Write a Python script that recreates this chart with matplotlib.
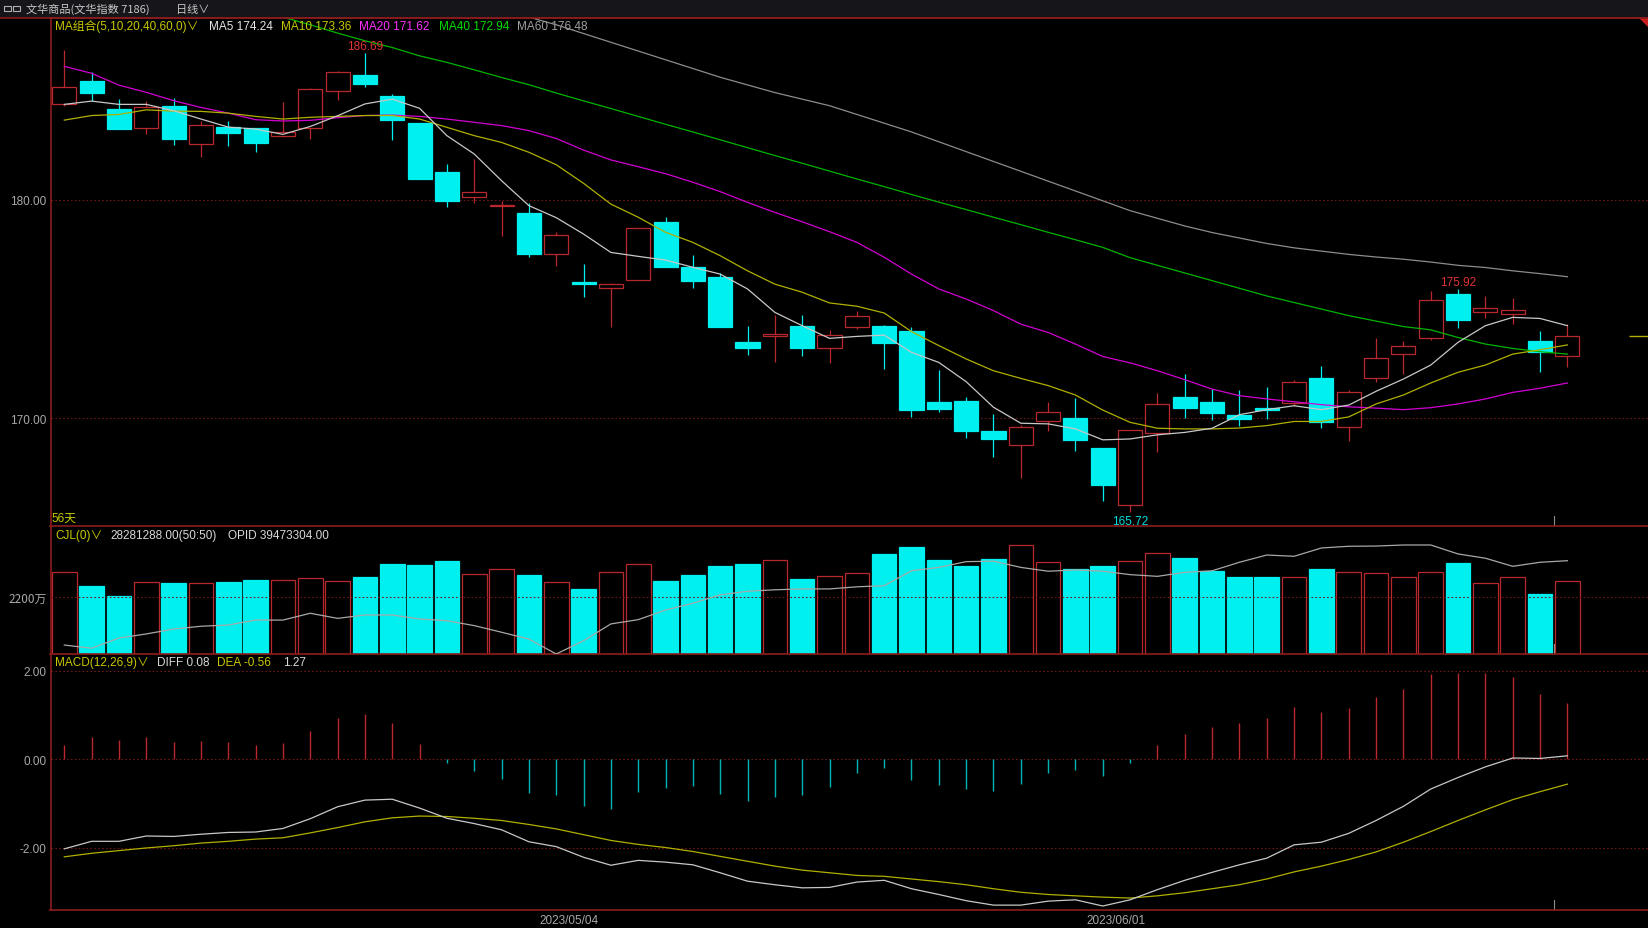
import numpy as np
import matplotlib.pyplot as plt
from matplotlib.patches import Rectangle, Polygon
from matplotlib.lines import Line2D

W, H = 1648, 929

# ---------------- data ----------------
opens = [184.36, 185.43, 184.15, 183.29, 184.28, 182.53, 183.32, 183.28, 182.90, 183.27,
         184.96, 185.70, 184.73, 183.51, 181.25, 180.14, 179.70, 179.38, 177.50, 176.25,
         175.98, 176.31, 178.99, 176.91, 176.47, 173.49, 173.75, 174.24, 173.21, 174.19,
         174.24, 174.01, 170.76, 170.78, 169.41, 168.78, 169.87, 170.02, 168.63, 166.05,
         169.32, 170.98, 170.74, 170.16, 170.48, 170.70, 171.83, 169.59, 171.83, 172.93,
         173.66, 175.70, 174.85, 174.76, 173.54, 172.84]
highs = [186.84, 185.82, 184.60, 184.51, 184.65, 183.61, 183.58, 183.30, 184.45, 185.11,
         185.90, 186.69, 184.83, 183.53, 181.63, 181.86, 179.92, 179.85, 178.51, 177.06,
         176.19, 178.71, 179.20, 177.47, 176.65, 174.21, 174.73, 174.73, 174.04, 174.93,
         174.26, 174.19, 172.21, 170.96, 170.20, 169.70, 170.74, 170.92, 168.65, 169.46,
         171.16, 172.03, 171.34, 171.31, 171.44, 171.77, 172.41, 171.30, 173.66, 173.53,
         175.81, 175.92, 175.58, 175.51, 174.00, 174.32]
lows = [184.30, 184.53, 183.22, 182.99, 182.51, 181.97, 182.47, 182.19, 182.88, 182.79,
        184.56, 185.17, 182.74, 180.96, 179.68, 179.83, 178.35, 177.40, 176.97, 175.56,
        174.19, 176.31, 176.91, 175.98, 174.16, 172.90, 172.57, 172.87, 172.54, 174.10,
        172.26, 170.08, 170.28, 169.12, 168.25, 167.27, 169.41, 168.50, 166.24, 165.72,
        168.45, 170.02, 169.94, 169.64, 169.97, 170.58, 169.56, 168.98, 171.65, 172.03,
        173.60, 174.13, 174.59, 174.30, 172.14, 172.36]
closes = [185.14, 184.89, 183.25, 184.24, 182.76, 183.40, 183.04, 182.61, 183.11, 185.05,
          185.85, 185.29, 183.64, 180.96, 179.94, 180.37, 179.76, 177.52, 178.39, 176.13,
          176.14, 178.71, 176.91, 176.30, 174.19, 173.22, 173.86, 173.24, 173.81, 174.67,
          173.43, 170.40, 170.42, 169.44, 169.06, 169.62, 170.28, 169.01, 166.95, 169.46,
          170.66, 170.48, 170.23, 169.97, 170.37, 171.68, 169.82, 171.21, 172.75, 173.30,
          175.41, 174.49, 175.05, 174.94, 173.05, 173.75]

ma5 = [184.36, 184.51, 184.36, 184.36, 184.07, 183.69, 183.32, 183.23, 182.99, 183.35,
       183.84, 184.38, 184.60, 184.18, 182.93, 182.09, 180.87, 179.73, 179.18, 178.43,
       177.59, 177.41, 177.24, 176.91, 176.60, 175.92, 174.85, 174.24, 173.66, 173.75,
       173.81, 173.02, 172.56, 171.68, 170.51, 169.78, 169.75, 169.52, 169.02, 169.06,
       169.25, 169.36, 169.55, 170.17, 170.40, 170.58, 170.40, 170.61, 171.24, 171.80,
       172.44, 173.48, 174.24, 174.62, 174.57, 174.24]
ma10 = [183.64, 183.85, 183.90, 184.11, 184.05, 184.04, 183.96, 183.81, 183.69, 183.77,
        183.81, 183.85, 183.85, 183.69, 183.31, 182.93, 182.62, 182.17, 181.60, 180.75,
        179.80, 179.20, 178.51, 178.05, 177.44, 176.75, 176.14, 175.77, 175.28, 175.13,
        174.82, 173.97, 173.33, 172.72, 172.18, 171.83, 171.50, 171.07, 170.38, 169.82,
        169.55, 169.52, 169.52, 169.56, 169.67, 169.86, 169.86, 170.07, 170.66, 171.07,
        171.62, 172.11, 172.44, 172.94, 173.14, 173.36]
ma20 = [186.10, 185.78, 185.24, 184.91, 184.53, 184.22, 183.96, 183.66, 183.60, 183.63,
        183.75, 183.85, 183.87, 183.81, 183.69, 183.54, 183.39, 183.16, 182.80, 182.27,
        181.82, 181.51, 181.19, 180.80, 180.37, 179.88, 179.42, 178.99, 178.54, 178.05,
        177.37, 176.60, 175.92, 175.46, 174.93, 174.31, 173.93, 173.40, 172.83, 172.54,
        172.18, 171.77, 171.34, 171.04, 170.89, 170.76, 170.63, 170.53, 170.47, 170.40,
        170.49, 170.66, 170.89, 171.19, 171.38, 171.62]
ma40 = [191.20, 190.85, 190.50, 190.15, 189.80, 189.40, 189.05, 188.70, 188.35, 188.00,
        187.62, 187.27, 186.96, 186.58, 186.28, 185.94, 185.59, 185.26, 184.88, 184.52,
        184.17, 183.81, 183.45, 183.10, 182.74, 182.38, 182.02, 181.67, 181.31, 180.95,
        180.60, 180.24, 179.89, 179.55, 179.20, 178.86, 178.51, 178.17, 177.82, 177.35,
        177.00, 176.65, 176.30, 175.95, 175.60, 175.30, 175.00, 174.70, 174.45, 174.20,
        174.05, 173.70, 173.40, 173.20, 173.05, 172.94]
ma60 = [195.20, 194.80, 194.40, 194.00, 193.60, 193.20, 192.80, 192.40, 192.00, 191.60,
        191.20, 190.80, 190.40, 190.00, 189.60, 189.20, 188.75, 188.35, 188.00, 187.60,
        187.20, 186.80, 186.40, 186.00, 185.60, 185.25, 184.90, 184.60, 184.30, 183.90,
        183.50, 183.10, 182.65, 182.20, 181.75, 181.30, 180.85, 180.40, 179.95, 179.50,
        179.15, 178.80, 178.50, 178.25, 178.00, 177.80, 177.65, 177.50, 177.38, 177.28,
        177.15, 177.00, 176.90, 176.75, 176.62, 176.48]

# volume (CJL) and open interest (OPID), in 万
cjl = [3180, 2610, 2230, 2770, 2740, 2740, 2770, 2840, 2860, 2930,
       2810, 2970, 3460, 3430, 3580, 3080, 3270, 3050, 2770, 2510,
       3150, 3460, 2820, 3050, 3380, 3490, 3630, 2890, 3000, 3130,
       3870, 4130, 3620, 3410, 3670, 4210, 3560, 3280, 3410, 3590,
       3900, 3690, 3200, 2970, 2970, 2970, 3280, 3180, 3130, 2970,
       3150, 3510, 2740, 2970, 2320, 2828.1288]
opid = [3552, 3537, 3585, 3604, 3627, 3640, 3646, 3669, 3669, 3701,
        3677, 3693, 3693, 3674, 3666, 3643, 3612, 3580, 3510, 3572,
        3651, 3671, 3716, 3748, 3787, 3804, 3811, 3815, 3815, 3825,
        3830, 3900, 3916, 3943, 3945, 3916, 3898, 3904, 3898, 3882,
        3874, 3893, 3900, 3940, 3974, 3968, 4007, 4015, 4016, 4021,
        4021, 3979, 3959, 3921, 3940, 3947.3304]

macd_hist = [0.33, 0.51, 0.43, 0.51, 0.38, 0.41, 0.38, 0.32, 0.37, 0.65,
             0.93, 1.02, 0.83, 0.35, -0.08, -0.26, -0.44, -0.76, -0.80, -1.05,
             -1.11, -0.74, -0.65, -0.60, -0.78, -0.93, -0.86, -0.80, -0.62, -0.30,
             -0.20, -0.47, -0.57, -0.67, -0.71, -0.56, -0.30, -0.23, -0.38, -0.08,
             0.32, 0.58, 0.74, 0.83, 0.93, 1.18, 1.07, 1.16, 1.41, 1.59,
             1.92, 1.95, 1.95, 1.86, 1.48, 1.27]
diff = [-2.02, -1.85, -1.85, -1.73, -1.74, -1.69, -1.65, -1.64, -1.56, -1.34,
        -1.07, -0.92, -0.90, -1.10, -1.33, -1.45, -1.59, -1.86, -1.97, -2.21,
        -2.39, -2.28, -2.32, -2.38, -2.56, -2.75, -2.83, -2.90, -2.89, -2.77,
        -2.73, -2.92, -3.05, -3.19, -3.29, -3.29, -3.20, -3.17, -3.31, -3.17,
        -2.94, -2.73, -2.55, -2.38, -2.23, -1.93, -1.87, -1.67, -1.38, -1.06,
        -0.67, -0.41, -0.17, 0.03, 0.02, 0.08]
dea = [-2.20, -2.12, -2.06, -2.00, -1.95, -1.89, -1.85, -1.80, -1.77, -1.66,
       -1.54, -1.41, -1.32, -1.28, -1.29, -1.33, -1.38, -1.47, -1.57, -1.70,
       -1.83, -1.92, -1.99, -2.08, -2.19, -2.30, -2.41, -2.50, -2.56, -2.62,
       -2.64, -2.70, -2.76, -2.83, -2.92, -3.00, -3.05, -3.08, -3.11, -3.13,
       -3.08, -3.01, -2.92, -2.83, -2.70, -2.54, -2.41, -2.26, -2.09, -1.87,
       -1.63, -1.38, -1.14, -0.91, -0.73, -0.56]

date_labels = ["2023/05/04", "2023/06/01"]
date_idx = [18, 38]
# candles carrying the high / low value labels
mark_high = [11, 51]
mark_low = [39]

# ---------------- style ----------------
RED = '#b8282c'
CYAN = '#00f0f0'
GRID = '#701616'
AXC = '#8c1c1c'
TXT = '#a8a8a8'
YEL = '#c8c800'
LAT = ['Liberation Sans', 'Noto Sans CJK SC', 'DejaVu Sans']
CJK = ['Noto Sans CJK SC', 'DejaVu Sans']

plt.rcParams['font.family'] = LAT

fig = plt.figure(figsize=(W / 100, H / 100), dpi=100, facecolor='black')


def fx(px):
    return px / W


def fy(py):
    return 1 - py / H


def ftext(px, py, s, color, size=8.5, family=LAT, ha='left'):
    fig.text(fx(px), fy(py), s, color=color, fontsize=size, family=family,
             ha=ha, va='center')


left = 50.5
top_p, bot_p, bot_v, bot_m = 19, 527, 655, 911
ax_p = fig.add_axes([fx(left), fy(bot_p), 1 - fx(left), (bot_p - top_p) / H])
ax_v = fig.add_axes([fx(left), fy(bot_v), 1 - fx(left), (bot_v - bot_p) / H], sharex=ax_p)
ax_m = fig.add_axes([fx(left), fy(bot_m), 1 - fx(left), (bot_m - bot_v) / H], sharex=ax_p)

n = len(closes)
x = np.arange(n)

for ax in (ax_p, ax_v, ax_m):
    ax.set_facecolor('black')
    for s in ('right', 'bottom'):
        ax.spines[s].set_visible(False)
    for s in ('left', 'top'):
        ax.spines[s].set_color(AXC)
        ax.spines[s].set_linewidth(1.2)
    ax.tick_params(axis='y', length=0, pad=3, labelsize=8.5, labelcolor=TXT)
    ax.tick_params(axis='x', length=0)
ax_m.spines['bottom'].set_visible(True)
ax_m.spines['bottom'].set_color(AXC)
ax_m.spines['bottom'].set_linewidth(1.2)

ax_p.set_xlim(-0.505, 57.95)

# ---------------- price panel ----------------
bw = 0.88
for i in range(n):
    o, h, l, c = opens[i], highs[i], lows[i], closes[i]
    up = c >= o
    col = RED if up else CYAN
    lo_b, hi_b = min(o, c), max(o, c)
    ax_p.vlines(i, l, h, color=col, lw=0.9, zorder=2)
    ax_p.add_patch(Rectangle((i - bw / 2, lo_b), bw, max(hi_b - lo_b, 0.04),
                             facecolor='black' if up else CYAN, edgecolor=col,
                             lw=0.9, zorder=3))

ax_p.plot(x, ma60, color='#8c8c8c', lw=0.9, zorder=4)
ax_p.plot(x, ma40, color='#00b400', lw=0.9, zorder=4)
ax_p.plot(x, ma20, color='#d200d2', lw=0.9, zorder=4)
ax_p.plot(x, ma10, color='#b0b000', lw=0.9, zorder=4)
ax_p.plot(x, ma5, color='#c8c8c8', lw=0.9, zorder=4)

ax_p.set_ylim(165.08, 188.31)
ax_p.set_yticks([170, 180])
ax_p.set_yticklabels(['170.00', '180.00'])
ax_p.grid(axis='y', color=GRID, linestyle=(0, (1.5, 2)), lw=0.8)
ax_p.tick_params(axis='x', labelbottom=False)

for i in mark_high:
    ax_p.annotate(f'{highs[i]:.2f}', (i, highs[i]), xytext=(0, 1),
                  textcoords='offset points', ha='center', va='bottom',
                  color='#e03434', fontsize=8.5, zorder=6)
for i in mark_low:
    ax_p.annotate(f'{lows[i]:.2f}', (i, lows[i]), xytext=(0, -2),
                  textcoords='offset points', ha='center', va='top',
                  color='#00e0e0', fontsize=8.5, zorder=6)
ax_p.hlines(closes[-1], 57.24, 57.95, color='#b0b000', lw=1)

# ---------------- volume panel ----------------
vbw = 0.9
for i in range(n):
    up = closes[i] >= opens[i]
    ax_v.add_patch(Rectangle((i - vbw / 2, 0), vbw, cjl[i],
                             facecolor='black' if up else CYAN,
                             edgecolor=RED if up else CYAN, lw=0.9))
ax_v.set_ylim(0, 4940)
ax_v.set_yticks([2200])
ax_v.set_yticklabels(['2200万'], family=CJK)
ax_v.grid(axis='y', color=GRID, linestyle=(0, (1.5, 2)), lw=0.8)
ax_v.tick_params(axis='x', labelbottom=False)
ax_v2 = ax_v.twinx()
ax_v2.plot(x, opid, color='#a8a8a8', lw=0.9)
ax_v2.set_ylim(3510, 4110)
ax_v2.axis('off')

# ---------------- MACD panel ----------------
hcols = [RED if v > 0 else '#00b4b4' for v in macd_hist]
ax_m.vlines(x, 0, macd_hist, colors=hcols, lw=1)
ax_m.plot(x, dea, color='#b0b000', lw=0.9)
ax_m.plot(x, diff, color='#c8c8c8', lw=0.9)
ax_m.set_ylim(-3.40, 2.377)
ax_m.set_yticks([-2, 0, 2])
ax_m.set_yticklabels(['-2.00', '0.00', '2.00'])
ax_m.grid(axis='y', color=GRID, linestyle=(0, (1.5, 2)), lw=0.8)
ax_m.set_xticks([d + 0.47 for d in date_idx])
ax_m.set_xticklabels(date_labels)
ax_m.tick_params(axis='x', labelsize=8.5, labelcolor=TXT, pad=3)

# small marker ticks at the bottom of each panel
for ax, frac in ((ax_p, 10 / 508), (ax_v, 10 / 128), (ax_m, 10 / 256)):
    ax.axvline(54.5, 0, frac, color='#909090', lw=0.8)

# ---------------- header, frame and legends ----------------
fig.add_artist(Rectangle((0, fy(18)), 1, 18 / H, transform=fig.transFigure,
                         facecolor='#15151a', edgecolor='none'))
fig.add_artist(Line2D([0, 1], [fy(19), fy(19)], transform=fig.transFigure,
                      color=AXC, lw=1.2))
fig.add_artist(Polygon([(fx(1639), fy(19)), (1, fy(19)), (1, fy(28))],
                       closed=True, transform=fig.transFigure,
                       facecolor='#c81e1e', edgecolor='none'))
for x0 in (4, 13):
    fig.add_artist(Rectangle((fx(x0), fy(12)), 7 / W, 5 / H, transform=fig.transFigure,
                             facecolor='none', edgecolor='#b0b0b0', lw=0.8))
ftext(26, 9.5, '文华商品(文华指数 7186)', '#c8c8c8', size=8, family=CJK)
ftext(176, 9.5, '日线∨', '#c8c8c8', size=8, family=CJK)

ftext(55, 26.5, 'MA组合(5,10,20,40,60,0)∨', YEL)
ftext(209, 26.5, f'MA5 {ma5[-1]:.2f}', '#e6e6e6')
ftext(281, 26.5, f'MA10 {ma10[-1]:.2f}', YEL)
ftext(359, 26.5, f'MA20 {ma20[-1]:.2f}', '#ff30ff')
ftext(439, 26.5, f'MA40 {ma40[-1]:.2f}', '#00dc00')
ftext(517, 26.5, f'MA60 {ma60[-1]:.2f}', '#a0a0a0')

ftext(51, 519, f'{n}天', YEL)

ftext(55, 536, 'CJL(0)∨', YEL)
ftext(110, 536, '28281288.00(50:50)', '#d8d8d8')
ftext(228, 536, 'OPID 39473304.00', '#d8d8d8')

ftext(55, 663.5, 'MACD(12,26,9)∨', YEL)
ftext(157, 663.5, f'DIFF {diff[-1]:.2f}', '#d8d8d8')
ftext(217, 663.5, f'DEA {dea[-1]:.2f}', YEL)
ftext(283, 663.5, f'{macd_hist[-1]:.2f}', '#d8d8d8')

fig.savefig('out.png', dpi=100, facecolor='black')
